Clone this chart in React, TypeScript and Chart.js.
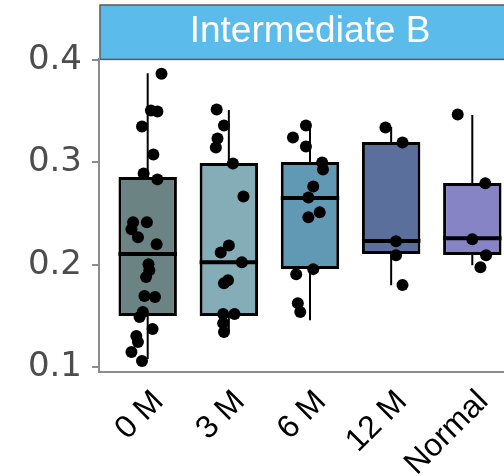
import React, { useEffect, useRef } from "react";
import { Chart, registerables } from "chart.js";

Chart.register(...registerables);

const panelTitle = "Intermediate B";
const categories = ["0 M", "3 M", "6 M", "12 M", "Normal"];
const boxColors = ["#6b8382", "#84adb7", "#6199b5", "#5a6f9b", "#8784c6"];
const q1 = [0.150, 0.150, 0.196, 0.2105, 0.2095];
const median = [0.2105, 0.2026, 0.2652, 0.2232, 0.226];
const q3 = [0.2857, 0.2994, 0.3004, 0.3199, 0.2799];
const whiskerLow = [0.108, 0.134, 0.146, 0.180, 0.1997];
const whiskerHigh = [0.387, 0.351, 0.3366, 0.3346, 0.3463];
const yTicks = [0.1, 0.2, 0.3, 0.4];

// jittered points: [horizontal offset within group, value]
const pts0M: [number, number][] = [
  [0.17, 0.3866], [0.04, 0.3506], [0.12, 0.3496], [-0.07, 0.335], [0.07, 0.3077],
  [-0.05, 0.2892], [0.12, 0.2834], [-0.18, 0.2415], [-0.01, 0.2415], [-0.2, 0.2347],
  [-0.12, 0.2269], [0.11, 0.2201], [0.01, 0.2006], [0.02, 0.1948], [-0.02, 0.188],
  [-0.04, 0.1695], [0.09, 0.1685], [-0.1, 0.149], [-0.06, 0.1539], [0.06, 0.1373],
  [-0.14, 0.1305], [-0.12, 0.1247], [-0.2, 0.1149], [-0.07, 0.1062],
];
const pts3M: [number, number][] = [
  [-0.15, 0.3515], [-0.06, 0.336], [-0.14, 0.3233], [-0.16, 0.3146], [0.05, 0.299],
  [0.18, 0.2668], [0.0, 0.2189], [-0.1, 0.2121], [0.16, 0.2026], [-0.01, 0.185],
  [-0.06, 0.1821], [-0.07, 0.1519], [0.07, 0.1519], [-0.07, 0.1431], [-0.06, 0.1344],
];
const pts6M: [number, number][] = [
  [-0.05, 0.336], [-0.21, 0.3243], [-0.05, 0.3155], [0.15, 0.2999], [0.16, 0.2931],
  [0.04, 0.2765], [-0.02, 0.2658], [0.12, 0.2512], [-0.02, 0.2464], [0.04, 0.1958],
  [-0.17, 0.1909], [-0.15, 0.1626], [-0.12, 0.1539],
];
const pts12M: [number, number][] = [
  [-0.07, 0.3341], [0.14, 0.3195], [0.06, 0.223], [0.06, 0.2093], [0.14, 0.1802],
];
const ptsNormal: [number, number][] = [
  [-0.18, 0.3467], [0.16, 0.2795], [0.0, 0.225], [0.17, 0.2093], [0.1, 0.1977],
];
const groupPoints = [pts0M, pts3M, pts6M, pts12M, ptsNormal];

const axisGrey = "#8c8c8c";

const boxPlugin = {
  id: "boxParts",
  beforeDraw(chart: any) {
    const t = chart.titleBlock;
    const ca = chart.chartArea;
    if (!t) return;
    const ctx = chart.ctx;
    ctx.save();
    ctx.fillStyle = "#5bbcec";
    ctx.fillRect(ca.left + 1, t.top, ca.right - ca.left, t.bottom - t.top);
    ctx.strokeStyle = "#5a5a5a";
    ctx.lineWidth = 1.5;
    ctx.strokeRect(ca.left + 1, t.top, ca.right - ca.left, t.bottom - t.top);
    ctx.restore();
  },
  beforeDatasetsDraw(chart: any) {
    const ctx = chart.ctx;
    const xs = chart.scales.x;
    const ys = chart.scales.y;
    ctx.save();
    ctx.strokeStyle = "#000";
    ctx.lineWidth = 2;
    categories.forEach((_, i) => {
      const x = xs.getPixelForValue(i);
      ctx.beginPath();
      ctx.moveTo(x, ys.getPixelForValue(whiskerHigh[i]));
      ctx.lineTo(x, ys.getPixelForValue(q3[i]));
      ctx.moveTo(x, ys.getPixelForValue(q1[i]));
      ctx.lineTo(x, ys.getPixelForValue(whiskerLow[i]));
      ctx.stroke();
    });
    ctx.restore();
  },
  afterDatasetDraw(chart: any, args: any) {
    if (args.index !== 0) return;
    const ctx = chart.ctx;
    const meta = chart.getDatasetMeta(0);
    const ys = chart.scales.y;
    ctx.save();
    ctx.strokeStyle = "#000";
    ctx.lineWidth = 4;
    meta.data.forEach((bar: any, i: number) => {
      const half = bar.width / 2;
      const y = ys.getPixelForValue(median[i]);
      ctx.beginPath();
      ctx.moveTo(bar.x - half, y);
      ctx.lineTo(bar.x + half, y);
      ctx.stroke();
    });
    ctx.restore();
  },
};

export default function App() {
  const ref = useRef<HTMLCanvasElement | null>(null);
  useEffect(() => {
    if (!ref.current) return;
    const scatterData: { x: number; y: number }[] = [];
    groupPoints.forEach((g, i) => g.forEach(([dx, v]) => scatterData.push({ x: i + dx, y: v })));
    const chart = new Chart(ref.current, {
      type: "bar",
      data: {
        datasets: [
          {
            type: "bar",
            data: categories.map((_, i) => ({ x: i, y: [q1[i], q3[i]] })) as any,
            backgroundColor: boxColors,
            borderColor: "#000",
            borderWidth: 3,
            borderSkipped: false,
            categoryPercentage: 1,
            barPercentage: 0.72,
            order: 1,
          },
          {
            type: "scatter",
            data: scatterData as any,
            backgroundColor: "#000",
            borderWidth: 0,
            pointRadius: 6,
            order: 0,
          } as any,
        ],
      },
      options: {
        animation: false,
        responsive: false,
        devicePixelRatio: 1,
        layout: { padding: { top: 5, right: 19, bottom: 0, left: 0 } },
        plugins: {
          legend: { display: false },
          tooltip: { enabled: false },
          title: {
            display: true,
            text: panelTitle,
            fullSize: false,
            color: "#ffffff",
            font: { family: "Liberation Sans", size: 37, weight: "normal", lineHeight: 1.2 },
            padding: { top: 5, bottom: 5 },
          },
        },
        scales: {
          x: {
            type: "linear",
            offset: false,
            min: -0.6,
            max: 4.6,
            afterBuildTicks: (s: any) => {
              s.ticks = categories.map((_, i) => ({ value: i }));
            },
            afterFit: (s: any) => {
              s.height = 104;
              s.paddingLeft = 0;
              s.paddingRight = 0;
            },
            ticks: {
              autoSkip: false,
              minRotation: 45,
              maxRotation: 45,
              padding: 3,
              labelOffset: 11,
              font: { family: "Liberation Sans", size: 32 },
              color: "#000",
              callback: (v: any) => categories[v as number],
            },
            grid: { display: false, offset: false },
            border: { display: true, color: axisGrey, width: 2 },
          },
          y: {
            min: 0.0954,
            max: 0.4005,
            afterBuildTicks: (s: any) => {
              s.ticks = yTicks.map((v) => ({ value: v }));
            },
            afterFit: (s: any) => {
              s.width = 99;
              s.paddingTop = 0;
              s.paddingBottom = 0;
            },
            ticks: {
              padding: 10,
              font: { family: "DejaVu Sans", size: 34 },
              color: "#4d4d4d",
              callback: (v: any) => Number(v).toFixed(1),
            },
            grid: { drawOnChartArea: false, tickLength: 7, color: axisGrey, lineWidth: 2 },
            border: { display: true, color: axisGrey, width: 2 },
          },
        },
      } as any,
      plugins: [boxPlugin],
    });
    return () => chart.destroy();
  }, []);
  return (
    <div style={{ position: "fixed", left: 0, top: 0, width: 504, height: 476, overflow: "hidden", background: "#fff" }}>
      <div style={{ width: 540, height: 476 }}>
        <canvas ref={ref} width={540} height={476} style={{ display: "block" }} />
      </div>
    </div>
  );
}
